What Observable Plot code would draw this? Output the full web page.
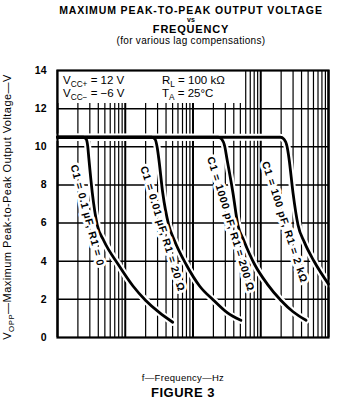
<!DOCTYPE html>
<html><head><meta charset="utf-8">
<script src="https://cdn.jsdelivr.net/npm/d3@7"></script>
<script src="https://cdn.jsdelivr.net/npm/@observablehq/plot@0.6"></script>
<style>
body{margin:0;background:#fff;}
#wrap{position:relative;width:339px;height:411px;font-family:Arial,"Liberation Sans",Helvetica,sans-serif;color:#000;overflow:hidden;}
#wrap svg{position:absolute;left:0;top:0;}
.t{position:absolute;left:0;width:382px;text-align:center;white-space:nowrap;line-height:1;}
</style></head><body><div id="wrap"></div>
<script>
// ---- text ----
const title1 = "MAXIMUM PEAK-TO-PEAK OUTPUT VOLTAGE";
const title2 = "vs";
const title3 = "FREQUENCY";
const title4 = "(for various lag compensations)";
const xAxisLabel = "f\u2014Frequency\u2014Hz";
const figureLabel = "FIGURE 3";

// ---- axes ----
const xTicks = [100, 1000, 10000, 100000, 1000000];
const xTickLabels = ["100", "1 k", "10 k", "100 k", "1 M"];
const yTicks = [0, 2, 4, 6, 8, 10, 12, 14];

// ---- curves (frequency in Hz, voltage in V) ----
const curve1F = [100, 240, 265, 280, 290, 326, 386, 479, 798, 1300, 2004, 3200, 5020];
const curve1V = [10.5, 10.5, 10.4, 10.0, 9.4, 7.6, 5.9, 5.1, 3.8, 2.7, 1.94, 1.3, 0.8];
const curve2F = [100, 2450, 2750, 2950, 3120, 3570, 4380, 5300, 8000, 12500, 20300, 32000, 50900];
const curve2V = [10.5, 10.5, 10.4, 10.0, 9.4, 7.6, 5.9, 5.1, 3.8, 2.7, 1.94, 1.3, 0.9];
const curve3F = [100, 23500, 26500, 29500, 31600, 38800, 46000, 56000, 82000, 125000, 199000, 300000, 467000];
const curve3V = [10.5, 10.5, 10.4, 10.0, 9.4, 7.6, 5.9, 5.1, 3.8, 2.8, 1.94, 1.35, 0.9];
const curve4F = [100, 195000, 220000, 245000, 261000, 299000, 355000, 440000, 612000, 1000000];
const curve4V = [10.5, 10.5, 10.4, 10.0, 9.4, 7.6, 5.9, 5.0, 4.0, 2.8];

// ---- curve labels ----
const labelText = ["C1 = 0.1 \u00b5F, R1 = 0", "C1 = 0.01 \u00b5F, R1 = 20 \u03a9", "C1 = 1000 pF, R1 = 200 \u03a9", "C1 = 100 pF, R1 = 2 k\u03a9"];
const labelF = [275, 3550, 36000, 225000];
const labelV = [6.4, 5.7, 5.95, 6.05];
const labelAngle = [75, 73, 73, 72];

// ---- conditions box ----
const boxF = [100, 54600];
const boxV = [12.27, 14];

const curves = [[curve1F, curve1V], [curve2F, curve2V], [curve3F, curve3V], [curve4F, curve4V]];
const rows = curves.flatMap(([fs, vs], i) => fs.map((f, j) => ({curve: i, f, v: vs[j]})));
const labels = labelText.map((t, i) => ({t, f: labelF[i], v: labelV[i], a: labelAngle[i]}));

const decades = [100, 1000, 10000, 100000];
const minor = decades.flatMap(d => [2,3,4,5,6,7,8,9].map(k => k * d));
const yGrid = [2, 4, 6, 8, 10, 12];

const plot = Plot.plot({
  width: 339, height: 411,
  marginLeft: 57, marginRight: 11, marginTop: 70, marginBottom: 74,
  style: {fontFamily: "Arial, 'Liberation Sans', sans-serif", fontSize: "10px", color: "black", background: "white", overflow: "visible"},
  x: {type: "log", domain: [100, 1000000]},
  y: {domain: [0, 14]},
  marks: [
    Plot.ruleX(minor, {stroke: "black", strokeWidth: 1.2}),
    Plot.ruleX(xTicks, {stroke: "black", strokeWidth: 2}),
    Plot.ruleY(yGrid, {stroke: "black", strokeWidth: 1.5}),
    Plot.rect([{x1: boxF[0], x2: boxF[1], y1: boxV[0], y2: boxV[1]}], {x1: "x1", x2: "x2", y1: "y1", y2: "y2", fill: "white", inset: 0}),
    Plot.line(rows, {x: "f", y: "v", z: "curve", stroke: "white", strokeWidth: 7, curve: "monotone-x"}),
    Plot.line(rows, {x: "f", y: "v", z: "curve", stroke: "black", strokeWidth: 2.8, curve: "monotone-x"}),
    Plot.text(labels, {x: "f", y: "v", text: "t", rotate: "a", fontSize: 10.5, fontWeight: "bold", fill: "black", stroke: "white", strokeWidth: 5.5, className: "clabel"}),
    Plot.frame({stroke: "black", strokeWidth: 2.2}),
    Plot.axisX(xTicks, {tickSize: 0, tickPadding: 15, tickFormat: (d, i) => xTickLabels[i], fontWeight: "bold", fontSize: 10, label: null}),
    Plot.axisY(yTicks, {tickSize: 0, tickPadding: 11, fontWeight: "bold", fontSize: 10.5, label: null})
  ]
});
const wrap = document.getElementById("wrap");
wrap.appendChild(plot);

const svg = d3.select(plot);
svg.selectAll(".clabel text").attr("letter-spacing", "0.7");
function subText(g, x, y, parts, size, anchor, transform, ls) {
  const t = g.append("text").attr("x", x).attr("y", y).attr("font-size", size).attr("fill", "black")
    .attr("font-family", "Arial, 'Liberation Sans', sans-serif").attr("text-anchor", anchor || "start");
  if (transform) t.attr("transform", transform);
  if (ls) t.attr("letter-spacing", ls);
  parts.forEach(([s, sub]) => {
    const ts = t.append("tspan").text(s);
    if (sub) ts.attr("font-size", size * 0.72).attr("dy", size * 0.25);
    else if (t.node().childNodes.length > 1) ts.attr("dy", -size * 0.25);
  });
  return t;
}
const g = svg.append("g");
subText(g, 63, 84, [["V"], ["CC+", true], [" = 12 V"]], 11.5);
subText(g, 63, 97, [["V"], ["CC\u2212", true], [" = \u22126 V"]], 11.5);
subText(g, 162, 84, [["R"], ["L", true], [" = 100 k\u03a9"]], 11.5);
subText(g, 162, 97, [["T"], ["A", true], [" = 25\u00b0C"]], 11.5);
subText(g, 0, 0, [["V"], ["OPP", true], ["\u2014Maximum Peak-to-Peak Output Voltage\u2014V"]], 11, "middle", "translate(11,207) rotate(-90)", "0.45");

function addLine(text, top, size, weight, extra) {
  const d = document.createElement("div");
  d.className = "t";
  d.textContent = text;
  d.style.top = top + "px";
  d.style.fontSize = size + "px";
  d.style.fontWeight = weight;
  if (extra) Object.assign(d.style, extra);
  wrap.appendChild(d);
}
addLine(title1, 5, 10.5, "bold", {letterSpacing: "0.9px"});
addLine(title2, 16, 7, "bold");
addLine(title3, 23.5, 11, "bold", {letterSpacing: "0.8px"});
addLine(title4, 35.5, 10, "normal", {letterSpacing: "0.3px"});
addLine(xAxisLabel, 373, 9.5, "normal", {letterSpacing: "0.3px", left: "-8px"});
addLine(figureLabel, 386, 13, "bold", {left: "-8px", letterSpacing: "0.5px"});
</script></body></html>
